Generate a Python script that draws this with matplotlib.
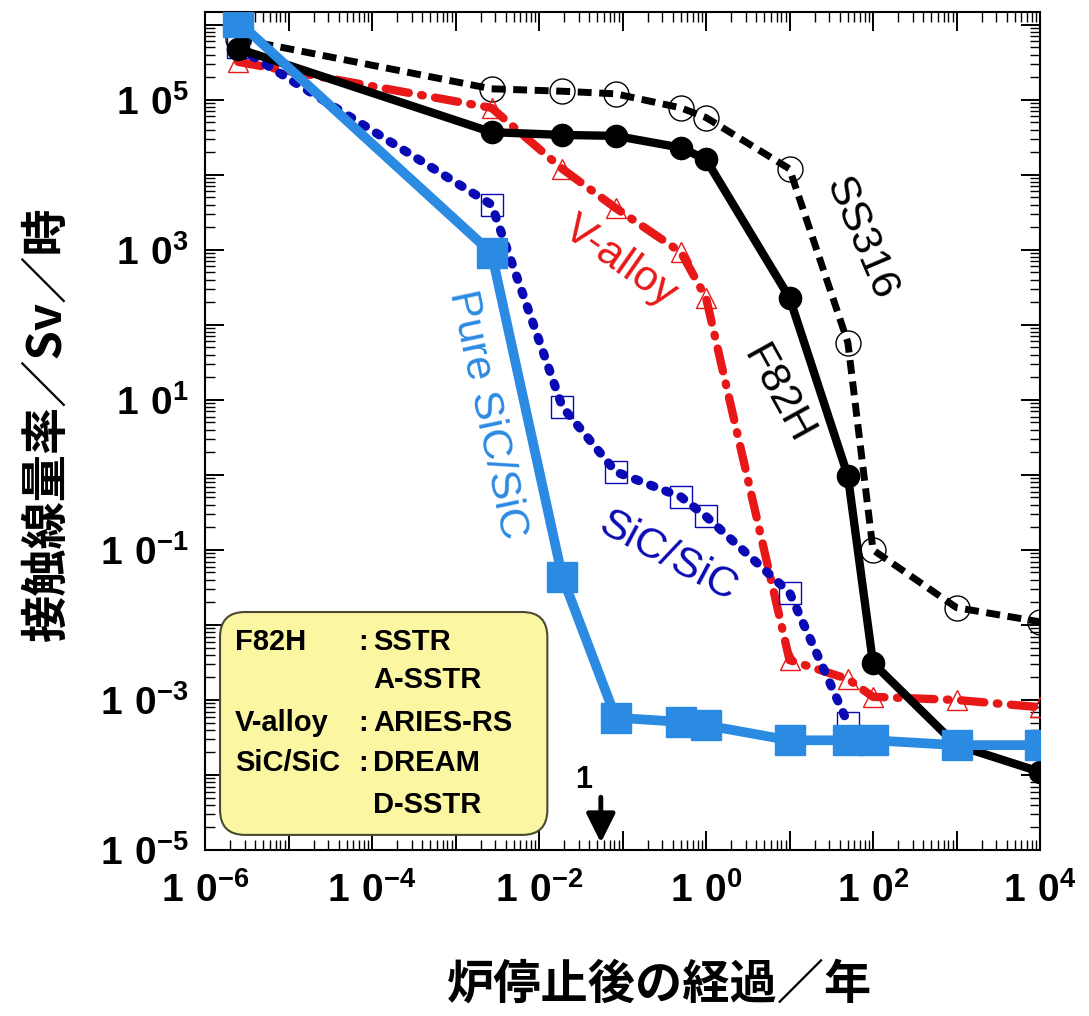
import numpy as np
import matplotlib
matplotlib.use("Agg")
import matplotlib.pyplot as plt
from matplotlib.ticker import LogLocator, FuncFormatter, NullFormatter
from matplotlib.patches import FancyBboxPatch

plt.rcParams['font.family'] = ['Liberation Sans', 'DejaVu Sans']
plt.rcParams['mathtext.fontset'] = 'custom'
plt.rcParams['mathtext.rm'] = 'Liberation Sans'
plt.rcParams['mathtext.bf'] = 'Liberation Sans:bold'

# time after shutdown (years)
times = [2.5e-6, 2.7e-3, 1.9e-2, 8.3e-2, 0.5, 1.0, 10, 50, 100, 1000, 1e4]

ss316 = [6.5e5, 1.4e5, 1.3e5, 1.2e5, 7.8e4, 5.8e4, 1.2e4, 58, 0.1, 0.017, 0.011]
f82h = [4.8e5, 3.7e4, 3.4e4, 3.3e4, 2.3e4, 1.6e4, 230, 0.97, 3.1e-3, 2.5e-4, 1.1e-4]
valloy = [3.2e5, 7.8e4, 1.2e4, 3.6e3, 930, 230, 3.4e-3, 1.9e-3, 1.1e-3, 1.0e-3, 8e-4]
sicsic = [5.0e5, 4.0e3, 8.1, 1.1, 0.51, 0.28, 0.027, 4.9e-4]
pure_sic = [1.1e6, 910, 0.044, 5.8e-4, 5.1e-4, 4.6e-4, 2.9e-4, 2.9e-4, 2.9e-4, 2.5e-4, 2.5e-4]

legend_rows = [("F82H", ":", "SSTR"), ("", "", "A-SSTR"),
               ("V-alloy", ":", "ARIES-RS"), ("SiC/SiC", ":", "DREAM"),
               ("", "", "D-SSTR")]

RED = '#e81818'
DBLUE = '#0a0ab4'
LBLUE = '#2b8ae2'

fig = plt.figure(figsize=(10.89, 10.16), dpi=100)
ax = fig.add_axes([205/1089, 1-850/1016, 835/1089, 838/1016])

ax.plot(times, ss316, color='black', lw=5, dashes=(2.0, 1.1),
        marker='o', ms=18, mfc='none', mec='black', mew=1.0, zorder=3)
ax.plot(times, f82h, color='black', lw=6, marker='o', ms=16,
        mfc='black', mec='black', zorder=4)
ax.plot(times, valloy, color=RED, lw=6, dashes=(2.8, 1.5, 0.2, 1.5),
        dash_capstyle='round', marker='^', ms=15, mfc='none', mec=RED,
        mew=1.0, zorder=3)
ax.plot(times[:len(sicsic)], sicsic, color=DBLUE, lw=6.5, dashes=(0.4, 1.4),
        dash_capstyle='round', marker='s', ms=16, mfc='none', mec=DBLUE,
        mew=1.0, zorder=3)
ax.plot(times, pure_sic, color=LBLUE, lw=7, marker='s', ms=21,
        mfc=LBLUE, mec=LBLUE, zorder=5)

ax.set_xscale('log')
ax.set_yscale('log')
ax.set_xlim(1e-6, 1e4)
ax.set_ylim(1e-5, 10**6.17)


def fmt_y(v, pos):
    e = int(round(np.log10(v)))
    if e % 2 == 0:
        return ''
    return r'$\mathbf{1\ 0^{%d}}$' % e


def fmt_x(v, pos):
    e = int(round(np.log10(v)))
    if e % 2 != 0:
        return ''
    return r'$\mathbf{1\ 0^{%d}}$' % e


for axis, f in ((ax.xaxis, fmt_x), (ax.yaxis, fmt_y)):
    axis.set_major_locator(LogLocator(base=10, numticks=30))
    axis.set_minor_locator(LogLocator(base=10, subs=np.arange(2, 10), numticks=30))
    axis.set_major_formatter(FuncFormatter(f))
    axis.set_minor_formatter(NullFormatter())

ax.tick_params(which='both', direction='in', top=True, right=True)
ax.tick_params(which='major', length=14, width=1.4, labelsize=28)
ax.tick_params(which='minor', length=7, width=1.0)
ax.tick_params(axis='x', pad=16)
ax.tick_params(axis='y', pad=12)
for s in ax.spines.values():
    s.set_linewidth(1.5)

# curve labels
ax.text(70, 1450, 'SS316', fontsize=31, rotation=-67, ha='center', va='center',
        rotation_mode='anchor')
ax.text(7.3, 11.7, 'F82H', fontsize=31, rotation=-61, ha='center', va='center',
        rotation_mode='anchor')
ax.text(0.093, 690, 'V-alloy', fontsize=31, color=RED, rotation=-35,
        ha='center', va='center', rotation_mode='anchor')
ax.text(2.4e-3, 6.3, 'Pure SiC/SiC', fontsize=31, color=LBLUE, rotation=-78,
        ha='center', va='center', rotation_mode='anchor')
ax.text(0.35, 0.081, 'SiC/SiC', fontsize=31, color=DBLUE, rotation=-28,
        ha='center', va='center', rotation_mode='anchor')

# arrow marking 1
ax.annotate('', xy=(0.055, 1.15e-5), xytext=(0.055, 5.5e-5),
            arrowprops=dict(arrowstyle='-|>', color='black', lw=3.5,
                            mutation_scale=44), zorder=6)
ax.text(0.034, 8.6e-5, '1', fontsize=22, fontweight='bold', ha='center',
        va='center')

# reactor box
box = FancyBboxPatch((0.018, 0.018), 0.392, 0.266, transform=ax.transAxes,
                     boxstyle='round,pad=0,rounding_size=0.03',
                     facecolor='#fbf6a2', edgecolor='#4a4a30', lw=1.5, zorder=7)
ax.add_patch(box)
row_y = [0.248, 0.203, 0.152, 0.104, 0.054]
for (name, colon, reactor), yy in zip(legend_rows, row_y):
    kw = dict(transform=ax.transAxes, fontsize=21, fontweight='bold',
              va='center', zorder=8)
    ax.text(0.036, yy, name, ha='left', **kw)
    ax.text(0.184, yy, colon, ha='left', **kw)
    ax.text(0.201, yy, reactor, ha='left', **kw)

cjk = ['Noto Sans CJK JP', 'DejaVu Sans']
fig.text(660/1089, 1-985/1016, '炉停止後の経過／年', fontsize=34,
         fontweight='bold', family=cjk, ha='center', va='center')
fig.text(47/1089, 1-425/1016, '接触線量率／Sv／時', fontsize=34,
         fontweight='bold', family=cjk, ha='center', va='center', rotation=90)

fig.savefig('out.png', dpi=100)
